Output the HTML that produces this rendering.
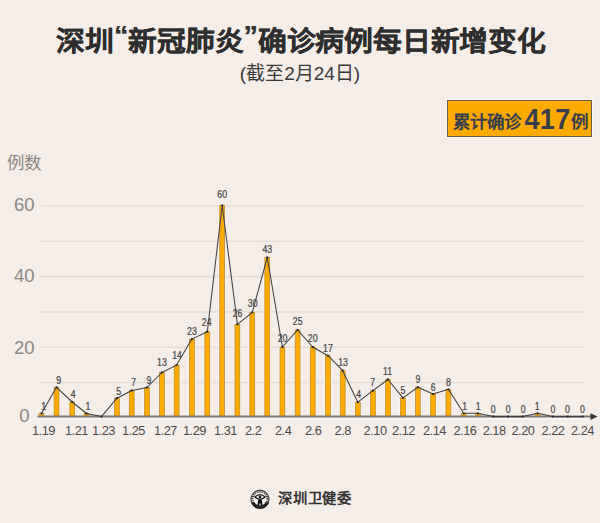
<!DOCTYPE html>
<html lang="zh-CN"><head><meta charset="utf-8"><title>chart</title>
<style>
html,body{margin:0;padding:0}
body{width:600px;height:523px;overflow:hidden;background:#f5ede7;position:relative;font-family:"Liberation Sans",sans-serif;}
.a{position:absolute;white-space:nowrap;}
.q{position:relative;top:-5.5px;}
#title{left:0.7px;width:600px;top:23.6px;text-align:center;font-size:27px;transform:scaleX(1.066);transform-origin:300px 0;-webkit-text-stroke:0.25px #2e2e2e;font-weight:bold;color:#2e2e2e;line-height:36px;}
#sub{left:0;width:600px;top:62.5px;text-align:center;font-size:19px;color:#3a3a3a;line-height:22px;}
#box{left:447px;top:100px;width:143px;height:35px;background:#fdaa00;border:1px solid #6a5d45;box-shadow:0 0 0 1px rgba(255,255,255,0.6);}
#box .t1{position:absolute;left:5px;top:11px;font-size:17.5px;font-weight:bold;color:#363d4d;line-height:20px;}
#box .t2{position:absolute;left:76.5px;top:3px;font-size:27px;letter-spacing:0.3px;transform:scaleY(1.07);transform-origin:0 100%;font-weight:bold;color:#363d4d;line-height:32px;}
#box .t3{position:absolute;left:123px;top:11px;font-size:17.5px;font-weight:bold;color:#363d4d;line-height:20px;}
#ylab{left:7px;top:151.5px;font-size:17.5px;color:#8a8784;line-height:22px;}
.yl{position:absolute;font-size:18.5px;color:#8a8784;line-height:20px;text-align:center;width:40px;left:4.3px;}
.xl{position:absolute;top:422.6px;font-size:12.8px;letter-spacing:-0.5px;margin-left:-1px;color:#4a4a4a;line-height:16px;}
svg{position:absolute;left:0;top:0;}
.dl{font-size:10.3px;fill:#484848;stroke:#484848;stroke-width:0.25px;text-anchor:middle;font-family:"Liberation Sans",sans-serif;}
#foot{left:277.5px;top:489px;font-size:13.6px;font-weight:bold;color:#333;line-height:20px;transform:scaleX(1.055);transform-origin:0 0;}
</style></head><body>
<div class="a" id="title">深圳<span class="q">“</span>新冠肺炎<span class="q">”</span>确诊病例每日新增变化</div>
<div class="a" id="sub">(截至2月24日)</div>
<div class="a" id="box"><span class="t1">累计确诊</span><span class="t2">417</span><span class="t3">例</span></div>
<div class="a" id="ylab">例数</div>
<div class="yl" style="top:195px">60</div>
<div class="yl" style="top:266px">40</div>
<div class="yl" style="top:338px">20</div>
<div class="yl" style="top:406px">0</div>
<svg width="600" height="523" viewBox="0 0 600 523">
<line x1="40.5" x2="585" y1="206.00" y2="206.00" stroke="#e6ddd6" stroke-width="1.6"/>
<line x1="40.5" x2="585" y1="241.30" y2="241.30" stroke="#e6ddd6" stroke-width="1.6"/>
<line x1="40.5" x2="585" y1="276.60" y2="276.60" stroke="#e6ddd6" stroke-width="1.6"/>
<line x1="40.5" x2="585" y1="311.90" y2="311.90" stroke="#e6ddd6" stroke-width="1.6"/>
<line x1="40.5" x2="585" y1="347.20" y2="347.20" stroke="#e6ddd6" stroke-width="1.6"/>
<line x1="40.5" x2="585" y1="382.50" y2="382.50" stroke="#e6ddd6" stroke-width="1.6"/>
<rect x="37.85" y="412.70" width="7.30" height="3.80" fill="#ffffff" opacity="0.55"/>
<rect x="39.05" y="413.50" width="4.9" height="3.00" fill="#fdab00" stroke="#b88423" stroke-width="0.7"/>
<rect x="52.85" y="386.50" width="7.30" height="30.00" fill="#ffffff" opacity="0.55"/>
<rect x="54.05" y="387.30" width="4.9" height="29.20" fill="#fdab00" stroke="#b88423" stroke-width="0.7"/>
<rect x="68.60" y="401.20" width="7.30" height="15.30" fill="#ffffff" opacity="0.55"/>
<rect x="69.80" y="402.00" width="4.9" height="14.50" fill="#fdab00" stroke="#b88423" stroke-width="0.7"/>
<rect x="82.85" y="412.70" width="7.30" height="3.80" fill="#ffffff" opacity="0.55"/>
<rect x="84.05" y="413.50" width="4.9" height="3.00" fill="#fdab00" stroke="#b88423" stroke-width="0.7"/>
<rect x="113.25" y="397.40" width="7.30" height="19.10" fill="#ffffff" opacity="0.55"/>
<rect x="114.45" y="398.20" width="4.9" height="18.30" fill="#fdab00" stroke="#b88423" stroke-width="0.7"/>
<rect x="128.05" y="389.70" width="7.30" height="26.80" fill="#ffffff" opacity="0.55"/>
<rect x="129.25" y="390.50" width="4.9" height="26.00" fill="#fdab00" stroke="#b88423" stroke-width="0.7"/>
<rect x="143.35" y="386.70" width="7.30" height="29.80" fill="#ffffff" opacity="0.55"/>
<rect x="144.55" y="387.50" width="4.9" height="29.00" fill="#fdab00" stroke="#b88423" stroke-width="0.7"/>
<rect x="158.25" y="371.70" width="7.30" height="44.80" fill="#ffffff" opacity="0.55"/>
<rect x="159.45" y="372.50" width="4.9" height="44.00" fill="#fdab00" stroke="#b88423" stroke-width="0.7"/>
<rect x="172.95" y="364.30" width="7.30" height="52.20" fill="#ffffff" opacity="0.55"/>
<rect x="174.15" y="365.10" width="4.9" height="51.40" fill="#fdab00" stroke="#b88423" stroke-width="0.7"/>
<rect x="188.25" y="338.30" width="7.30" height="78.20" fill="#ffffff" opacity="0.55"/>
<rect x="189.45" y="339.10" width="4.9" height="77.40" fill="#fdab00" stroke="#b88423" stroke-width="0.7"/>
<rect x="203.65" y="330.90" width="7.30" height="85.60" fill="#ffffff" opacity="0.55"/>
<rect x="204.85" y="331.70" width="4.9" height="84.80" fill="#fdab00" stroke="#b88423" stroke-width="0.7"/>
<rect x="218.55" y="204.70" width="7.30" height="211.80" fill="#ffffff" opacity="0.55"/>
<rect x="219.75" y="205.50" width="4.9" height="211.00" fill="#fdab00" stroke="#b88423" stroke-width="0.7"/>
<rect x="233.75" y="323.50" width="7.30" height="93.00" fill="#ffffff" opacity="0.55"/>
<rect x="234.95" y="324.30" width="4.9" height="92.20" fill="#fdab00" stroke="#b88423" stroke-width="0.7"/>
<rect x="248.65" y="311.50" width="7.30" height="105.00" fill="#ffffff" opacity="0.55"/>
<rect x="249.85" y="312.30" width="4.9" height="104.20" fill="#fdab00" stroke="#b88423" stroke-width="0.7"/>
<rect x="263.65" y="256.70" width="7.30" height="159.80" fill="#ffffff" opacity="0.55"/>
<rect x="264.85" y="257.50" width="4.9" height="159.00" fill="#fdab00" stroke="#b88423" stroke-width="0.7"/>
<rect x="278.75" y="346.20" width="7.30" height="70.30" fill="#ffffff" opacity="0.55"/>
<rect x="279.95" y="347.00" width="4.9" height="69.50" fill="#fdab00" stroke="#b88423" stroke-width="0.7"/>
<rect x="293.95" y="329.10" width="7.30" height="87.40" fill="#ffffff" opacity="0.55"/>
<rect x="295.15" y="329.90" width="4.9" height="86.60" fill="#fdab00" stroke="#b88423" stroke-width="0.7"/>
<rect x="309.05" y="346.20" width="7.30" height="70.30" fill="#ffffff" opacity="0.55"/>
<rect x="310.25" y="347.00" width="4.9" height="69.50" fill="#fdab00" stroke="#b88423" stroke-width="0.7"/>
<rect x="324.35" y="354.90" width="7.30" height="61.60" fill="#ffffff" opacity="0.55"/>
<rect x="325.55" y="355.70" width="4.9" height="60.80" fill="#fdab00" stroke="#b88423" stroke-width="0.7"/>
<rect x="339.05" y="369.90" width="7.30" height="46.60" fill="#ffffff" opacity="0.55"/>
<rect x="340.25" y="370.70" width="4.9" height="45.80" fill="#fdab00" stroke="#b88423" stroke-width="0.7"/>
<rect x="354.15" y="401.40" width="7.30" height="15.10" fill="#ffffff" opacity="0.55"/>
<rect x="355.35" y="402.20" width="4.9" height="14.30" fill="#fdab00" stroke="#b88423" stroke-width="0.7"/>
<rect x="369.25" y="389.90" width="7.30" height="26.60" fill="#ffffff" opacity="0.55"/>
<rect x="370.45" y="390.70" width="4.9" height="25.80" fill="#fdab00" stroke="#b88423" stroke-width="0.7"/>
<rect x="384.25" y="378.70" width="7.30" height="37.80" fill="#ffffff" opacity="0.55"/>
<rect x="385.45" y="379.50" width="4.9" height="37.00" fill="#fdab00" stroke="#b88423" stroke-width="0.7"/>
<rect x="399.35" y="397.10" width="7.30" height="19.40" fill="#ffffff" opacity="0.55"/>
<rect x="400.55" y="397.90" width="4.9" height="18.60" fill="#fdab00" stroke="#b88423" stroke-width="0.7"/>
<rect x="414.15" y="386.40" width="7.30" height="30.10" fill="#ffffff" opacity="0.55"/>
<rect x="415.35" y="387.20" width="4.9" height="29.30" fill="#fdab00" stroke="#b88423" stroke-width="0.7"/>
<rect x="429.45" y="393.30" width="7.30" height="23.20" fill="#ffffff" opacity="0.55"/>
<rect x="430.65" y="394.10" width="4.9" height="22.40" fill="#fdab00" stroke="#b88423" stroke-width="0.7"/>
<rect x="444.75" y="388.50" width="7.30" height="28.00" fill="#ffffff" opacity="0.55"/>
<rect x="445.95" y="389.30" width="4.9" height="27.20" fill="#fdab00" stroke="#b88423" stroke-width="0.7"/>
<rect x="460.05" y="412.50" width="7.30" height="4.00" fill="#ffffff" opacity="0.55"/>
<rect x="461.25" y="413.30" width="4.9" height="3.20" fill="#fdab00" stroke="#b88423" stroke-width="0.7"/>
<rect x="474.35" y="412.50" width="7.30" height="4.00" fill="#ffffff" opacity="0.55"/>
<rect x="475.55" y="413.30" width="4.9" height="3.20" fill="#fdab00" stroke="#b88423" stroke-width="0.7"/>
<rect x="533.85" y="412.50" width="7.30" height="4.00" fill="#ffffff" opacity="0.55"/>
<rect x="535.05" y="413.30" width="4.9" height="3.20" fill="#fdab00" stroke="#b88423" stroke-width="0.7"/>
<line x1="37.5" x2="592" y1="418.5" y2="418.5" stroke="#ffffff" stroke-width="1" opacity="0.7"/>
<line x1="37.5" x2="592" y1="416.5" y2="416.5" stroke="#7d7873" stroke-width="2"/>
<path d="M590.5 413.3 L597.5 416.6 L590.5 420 Z" fill="#333"/>
<polyline points="41.50,413.50 56.50,387.30 72.25,402.00 86.50,413.50 101.50,416.60 116.90,398.20 131.70,390.50 147.00,387.50 161.90,372.50 176.60,365.10 191.90,339.10 207.30,331.70 222.20,205.50 237.40,324.30 252.30,312.30 267.30,257.50 282.40,347.00 297.60,329.90 312.70,347.00 328.00,355.70 342.70,370.70 357.80,402.20 372.90,390.70 387.90,379.50 403.00,397.90 417.80,387.20 433.10,394.10 448.40,389.30 463.70,413.30 478.00,413.30 493.25,416.60 507.80,416.60 522.80,416.60 537.50,413.30 552.70,416.60 567.70,416.60 582.70,416.60" fill="none" stroke="#404040" stroke-width="1.05" stroke-linejoin="round"/>
<circle cx="41.50" cy="413.50" r="1.15" fill="#2a2a3a"/>
<circle cx="56.50" cy="387.30" r="1.15" fill="#2a2a3a"/>
<circle cx="72.25" cy="402.00" r="1.15" fill="#2a2a3a"/>
<circle cx="86.50" cy="413.50" r="1.15" fill="#2a2a3a"/>
<circle cx="101.50" cy="416.60" r="1.15" fill="#2a2a3a"/>
<circle cx="116.90" cy="398.20" r="1.15" fill="#2a2a3a"/>
<circle cx="131.70" cy="390.50" r="1.15" fill="#2a2a3a"/>
<circle cx="147.00" cy="387.50" r="1.15" fill="#2a2a3a"/>
<circle cx="161.90" cy="372.50" r="1.15" fill="#2a2a3a"/>
<circle cx="176.60" cy="365.10" r="1.15" fill="#2a2a3a"/>
<circle cx="191.90" cy="339.10" r="1.15" fill="#2a2a3a"/>
<circle cx="207.30" cy="331.70" r="1.15" fill="#2a2a3a"/>
<circle cx="222.20" cy="205.50" r="1.15" fill="#2a2a3a"/>
<circle cx="237.40" cy="324.30" r="1.15" fill="#2a2a3a"/>
<circle cx="252.30" cy="312.30" r="1.15" fill="#2a2a3a"/>
<circle cx="267.30" cy="257.50" r="1.15" fill="#2a2a3a"/>
<circle cx="282.40" cy="347.00" r="1.15" fill="#2a2a3a"/>
<circle cx="297.60" cy="329.90" r="1.15" fill="#2a2a3a"/>
<circle cx="312.70" cy="347.00" r="1.15" fill="#2a2a3a"/>
<circle cx="328.00" cy="355.70" r="1.15" fill="#2a2a3a"/>
<circle cx="342.70" cy="370.70" r="1.15" fill="#2a2a3a"/>
<circle cx="357.80" cy="402.20" r="1.15" fill="#2a2a3a"/>
<circle cx="372.90" cy="390.70" r="1.15" fill="#2a2a3a"/>
<circle cx="387.90" cy="379.50" r="1.15" fill="#2a2a3a"/>
<circle cx="403.00" cy="397.90" r="1.15" fill="#2a2a3a"/>
<circle cx="417.80" cy="387.20" r="1.15" fill="#2a2a3a"/>
<circle cx="433.10" cy="394.10" r="1.15" fill="#2a2a3a"/>
<circle cx="448.40" cy="389.30" r="1.15" fill="#2a2a3a"/>
<circle cx="463.70" cy="413.30" r="1.15" fill="#2a2a3a"/>
<circle cx="478.00" cy="413.30" r="1.15" fill="#2a2a3a"/>
<circle cx="493.25" cy="416.60" r="1.15" fill="#2a2a3a"/>
<circle cx="507.80" cy="416.60" r="1.15" fill="#2a2a3a"/>
<circle cx="522.80" cy="416.60" r="1.15" fill="#2a2a3a"/>
<circle cx="537.50" cy="413.30" r="1.15" fill="#2a2a3a"/>
<circle cx="552.70" cy="416.60" r="1.15" fill="#2a2a3a"/>
<circle cx="567.70" cy="416.60" r="1.15" fill="#2a2a3a"/>
<circle cx="582.70" cy="416.60" r="1.15" fill="#2a2a3a"/>
<text transform="translate(43.75,409.75) scale(0.85,1)" class="dl">1</text>
<text transform="translate(58.75,383.50) scale(0.85,1)" class="dl">9</text>
<text transform="translate(73.30,398.20) scale(0.85,1)" class="dl">4</text>
<text transform="translate(88.00,409.75) scale(0.85,1)" class="dl">1</text>
<text transform="translate(118.70,394.60) scale(0.85,1)" class="dl">5</text>
<text transform="translate(133.70,386.20) scale(0.85,1)" class="dl">7</text>
<text transform="translate(149.00,383.90) scale(0.85,1)" class="dl">9</text>
<text transform="translate(161.90,366.30) scale(0.85,1)" class="dl">13</text>
<text transform="translate(177.00,359.00) scale(0.85,1)" class="dl">14</text>
<text transform="translate(191.90,335.00) scale(0.85,1)" class="dl">23</text>
<text transform="translate(206.70,326.00) scale(0.85,1)" class="dl">24</text>
<text transform="translate(222.20,197.60) scale(0.85,1)" class="dl">60</text>
<text transform="translate(237.50,316.70) scale(0.85,1)" class="dl">26</text>
<text transform="translate(252.70,306.70) scale(0.85,1)" class="dl">30</text>
<text transform="translate(267.30,253.10) scale(0.85,1)" class="dl">43</text>
<text transform="translate(282.60,342.30) scale(0.85,1)" class="dl">20</text>
<text transform="translate(297.70,325.00) scale(0.85,1)" class="dl">25</text>
<text transform="translate(312.70,342.30) scale(0.85,1)" class="dl">20</text>
<text transform="translate(327.90,351.70) scale(0.85,1)" class="dl">17</text>
<text transform="translate(343.00,366.30) scale(0.85,1)" class="dl">13</text>
<text transform="translate(358.80,397.90) scale(0.85,1)" class="dl">4</text>
<text transform="translate(372.80,385.80) scale(0.85,1)" class="dl">7</text>
<text transform="translate(387.60,374.70) scale(0.85,1)" class="dl">11</text>
<text transform="translate(403.00,394.40) scale(0.85,1)" class="dl">5</text>
<text transform="translate(418.00,383.30) scale(0.85,1)" class="dl">9</text>
<text transform="translate(433.20,390.70) scale(0.85,1)" class="dl">6</text>
<text transform="translate(448.40,385.80) scale(0.85,1)" class="dl">8</text>
<text transform="translate(464.75,410.00) scale(0.85,1)" class="dl">1</text>
<text transform="translate(478.25,410.00) scale(0.85,1)" class="dl">1</text>
<text transform="translate(493.25,413.30) scale(0.85,1)" class="dl">0</text>
<text transform="translate(508.25,413.30) scale(0.85,1)" class="dl">0</text>
<text transform="translate(523.25,413.30) scale(0.85,1)" class="dl">0</text>
<text transform="translate(537.20,410.00) scale(0.85,1)" class="dl">1</text>
<text transform="translate(553.00,413.00) scale(0.85,1)" class="dl">0</text>
<text transform="translate(567.50,413.00) scale(0.85,1)" class="dl">0</text>
<text transform="translate(582.50,413.00) scale(0.85,1)" class="dl">0</text>
<g transform="translate(260,499.2)">
<circle r="9.1" fill="#f3efeb" stroke="#1a1a1a" stroke-width="0.9"/>
<circle r="7.6" fill="none" stroke="#2a2a2a" stroke-width="2.1" stroke-dasharray="1.1 0.9"/>
<path d="M8.9 3.6 A9.6 9.6 0 0 1 -8.9 3.6 L-5.6 2.2 A6 6 0 0 0 5.6 2.2 Z" fill="#1a1a1a"/>
<circle r="7.6" fill="none" stroke="#f3efeb" stroke-width="0.8" stroke-dasharray="0.7 1.6" transform="rotate(30)" opacity="0.5"/>
<circle r="6.2" fill="#f7f4f1"/>
<path d="M-5.2 -2.2 Q0 -7 5.2 -2.2 Q0 2.4 -5.2 -2.2 Z" fill="none" stroke="#111" stroke-width="1.15" stroke-linejoin="round"/>
<circle cx="0" cy="-2.3" r="1.3" fill="#111"/>
<path d="M-1.8 0.3 L1.8 0.3 L2.6 6.6 L0.9 6.6 L0 3.2 L-0.9 6.6 L-2.6 6.6 Z" fill="#111"/>
</g>
</svg>
<div class="xl" style="left:33px">1.19</div>
<div class="xl" style="left:66px">1.21</div>
<div class="xl" style="left:93px">1.23</div>
<div class="xl" style="left:123px">1.25</div>
<div class="xl" style="left:155px">1.27</div>
<div class="xl" style="left:184px">1.29</div>
<div class="xl" style="left:215px">1.31</div>
<div class="xl" style="left:246px">2.2</div>
<div class="xl" style="left:276px">2.4</div>
<div class="xl" style="left:306px">2.6</div>
<div class="xl" style="left:335.6px">2.8</div>
<div class="xl" style="left:364.6px">2.10</div>
<div class="xl" style="left:393px">2.12</div>
<div class="xl" style="left:424px">2.14</div>
<div class="xl" style="left:454.5px">2.16</div>
<div class="xl" style="left:483.7px">2.18</div>
<div class="xl" style="left:512.5px">2.20</div>
<div class="xl" style="left:542.5px">2.22</div>
<div class="xl" style="left:572px">2.24</div>
<div class="a" id="foot">深圳卫健委</div>
</body></html>
